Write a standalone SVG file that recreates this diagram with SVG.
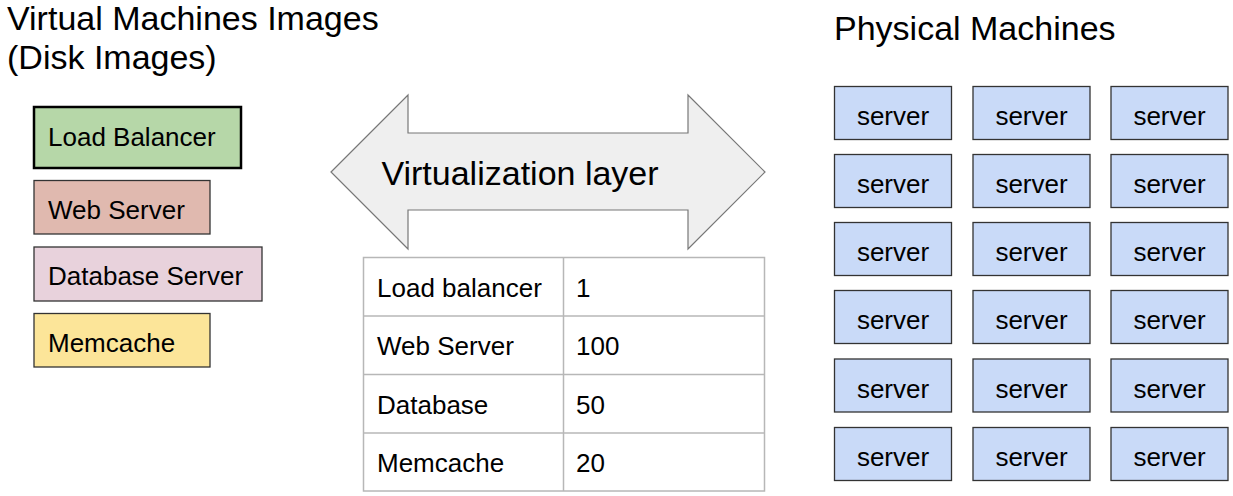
<svg xmlns="http://www.w3.org/2000/svg" width="1233" height="496" viewBox="0 0 1233 496">
<style>
text{font-family:"Liberation Sans",Arial,sans-serif;fill:#000}
.t34{font-size:34px}
.t26{font-size:26px}
.img{stroke:#333;stroke-width:1.3}
.srv rect{fill:#c9daf8;stroke:#333;stroke-width:1.3}
.srv text{font-size:26px;text-anchor:middle}
.cell{fill:none;stroke:#b7b7b7;stroke-width:1.5}
</style>
<rect width="1233" height="496" fill="#fff"/>
<text class="t34" x="7" y="30">Virtual Machines Images</text>
<text class="t34" x="7" y="69">(Disk Images)</text>
<text class="t34" x="834" y="40">Physical Machines</text>

<g id="vm-load-balancer"><rect x="34" y="107" width="207" height="61" fill="#b6d7a8" stroke="#000" stroke-width="2.5"/><text class="t26" x="48" y="146">Load Balancer</text></g>
<g id="vm-web-server"><rect class="img" x="34" y="180.5" width="176" height="53.5" fill="#e0b9af"/><text class="t26" x="48" y="219">Web Server</text></g>
<g id="vm-database-server"><rect class="img" x="34" y="247" width="228" height="54" fill="#e8d2dc"/><text class="t26" x="48" y="285">Database Server</text></g>
<g id="vm-memcache"><rect class="img" x="34" y="313.5" width="176" height="53.5" fill="#fce599"/><text class="t26" x="48" y="352">Memcache</text></g>

<g id="virtualization-layer">
<path d="M331,172 L408,95 L408,133 L688,133 L688,95 L765,172 L688,249 L688,210 L408,210 L408,249 Z" fill="#efefef" stroke="#777" stroke-width="1.2"/>
<text class="t34" x="520" y="185" text-anchor="middle">Virtualization layer</text>
</g>

<g id="table">
<rect class="cell" x="363.5" y="257.5" width="401" height="233.5"/>
<line class="cell" x1="563.5" y1="257.5" x2="563.5" y2="491"/>
<line class="cell" x1="363.5" y1="316" x2="764.5" y2="316"/>
<line class="cell" x1="363.5" y1="374.5" x2="764.5" y2="374.5"/>
<line class="cell" x1="363.5" y1="433" x2="764.5" y2="433"/>
<text class="t26" x="377" y="297">Load balancer</text><text class="t26" x="576" y="297">1</text>
<text class="t26" x="377" y="355">Web Server</text><text class="t26" x="576" y="355">100</text>
<text class="t26" x="377" y="414">Database</text><text class="t26" x="576" y="414">50</text>
<text class="t26" x="377" y="472">Memcache</text><text class="t26" x="576" y="472">20</text>
</g>

<g id="servers">
<g id="s1" class="srv"><rect x="834.5" y="86.5" width="117" height="53"/><text x="893" y="125">server</text></g>
<g id="s2" class="srv"><rect x="973" y="86.5" width="117" height="53"/><text x="1031.5" y="125">server</text></g>
<g id="s3" class="srv"><rect x="1111" y="86.5" width="117" height="53"/><text x="1169.5" y="125">server</text></g>
<g id="s4" class="srv"><rect x="834.5" y="154.5" width="117" height="53"/><text x="893" y="193">server</text></g>
<g id="s5" class="srv"><rect x="973" y="154.5" width="117" height="53"/><text x="1031.5" y="193">server</text></g>
<g id="s6" class="srv"><rect x="1111" y="154.5" width="117" height="53"/><text x="1169.5" y="193">server</text></g>
<g id="s7" class="srv"><rect x="834.5" y="222.5" width="117" height="53"/><text x="893" y="261">server</text></g>
<g id="s8" class="srv"><rect x="973" y="222.5" width="117" height="53"/><text x="1031.5" y="261">server</text></g>
<g id="s9" class="srv"><rect x="1111" y="222.5" width="117" height="53"/><text x="1169.5" y="261">server</text></g>
<g id="s10" class="srv"><rect x="834.5" y="290.5" width="117" height="53"/><text x="893" y="329">server</text></g>
<g id="s11" class="srv"><rect x="973" y="290.5" width="117" height="53"/><text x="1031.5" y="329">server</text></g>
<g id="s12" class="srv"><rect x="1111" y="290.5" width="117" height="53"/><text x="1169.5" y="329">server</text></g>
<g id="s13" class="srv"><rect x="834.5" y="359" width="117" height="53"/><text x="893" y="397.5">server</text></g>
<g id="s14" class="srv"><rect x="973" y="359" width="117" height="53"/><text x="1031.5" y="397.5">server</text></g>
<g id="s15" class="srv"><rect x="1111" y="359" width="117" height="53"/><text x="1169.5" y="397.5">server</text></g>
<g id="s16" class="srv"><rect x="834.5" y="427.5" width="117" height="53"/><text x="893" y="466">server</text></g>
<g id="s17" class="srv"><rect x="973" y="427.5" width="117" height="53"/><text x="1031.5" y="466">server</text></g>
<g id="s18" class="srv"><rect x="1111" y="427.5" width="117" height="53"/><text x="1169.5" y="466">server</text></g>
</g>
<g id="connectors"/>
</svg>
